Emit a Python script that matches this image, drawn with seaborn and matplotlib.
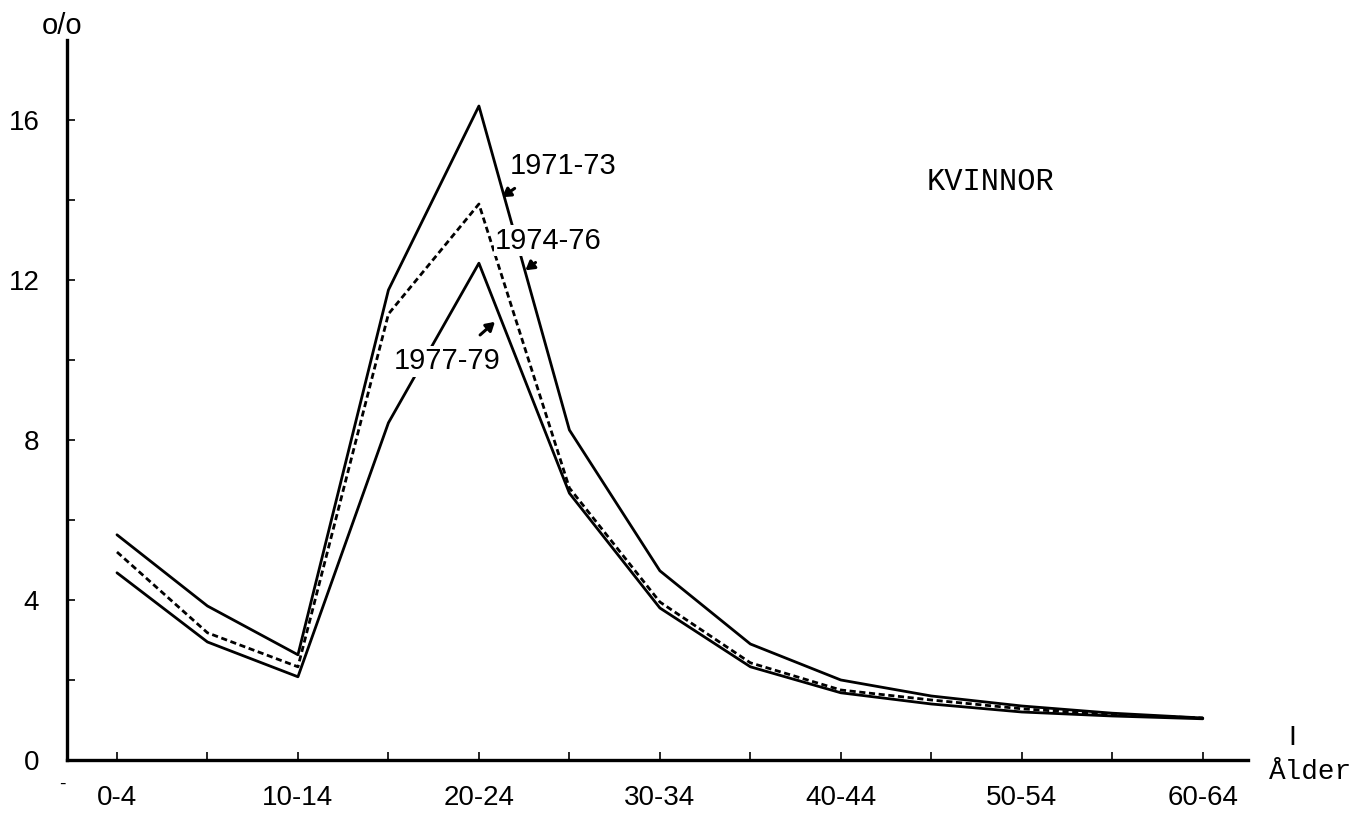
import numpy as np
import pandas as pd
import matplotlib
matplotlib.use('Agg')
import matplotlib.pyplot as plt
import seaborn as sns

# age groups (5-year bands) and share (o/o) per period
ages = ['0-4', '5-9', '10-14', '15-19', '20-24', '25-29', '30-34',
        '35-39', '40-44', '45-49', '50-54', '55-59', '60-64']
p_7173 = [5.63, 3.85, 2.63, 11.75, 16.35, 8.25, 4.73, 2.90, 2.00, 1.60, 1.35, 1.17, 1.05]
p_7476 = [5.20, 3.18, 2.33, 11.15, 13.90, 6.80, 3.95, 2.43, 1.75, 1.50, 1.28, 1.13, 1.05]
p_7779 = [4.68, 2.95, 2.08, 8.43, 12.42, 6.67, 3.80, 2.33, 1.68, 1.40, 1.20, 1.10, 1.03]
periods = ['1971-73', '1974-76', '1977-79']
yticks_major = [0, 4, 8, 12, 16]

rows = []
for name, vals in zip(periods, [p_7173, p_7476, p_7779]):
    for i, v in enumerate(vals):
        rows.append({'pos': i, 'age': ages[i], 'pct': v, 'period': name})
df = pd.DataFrame(rows)

sns.set_style('ticks')
plt.rcParams['font.family'] = ['Liberation Sans', 'DejaVu Sans']
plt.rcParams['text.color'] = 'black'
plt.rcParams['axes.edgecolor'] = 'black'
plt.rcParams['xtick.color'] = 'black'
plt.rcParams['ytick.color'] = 'black'

fig = plt.figure(figsize=(13.68, 8.13), dpi=100)
ax = fig.add_axes([0.049, 0.0652, 0.8633, 0.8856])

sns.lineplot(data=df, x='pos', y='pct', style='period', color='black',
             dashes={'1971-73': '', '1974-76': (2.2, 1.3), '1977-79': ''},
             lw=2.0, legend=False, ax=ax)

ax.set_xlim(-0.552, 12.5)
ax.set_ylim(0, 18)
ax.set_xlabel('')
ax.set_ylabel('')

ax.set_xticks(range(len(ages)))
ax.set_xticklabels([a if i % 2 == 0 else '' for i, a in enumerate(ages)])
ax.set_yticks(range(0, 17, 2))
ax.set_yticklabels([str(t) if t in yticks_major else '' for t in range(0, 17, 2)])

sns.despine(ax=ax)
for s in ['left', 'bottom']:
    ax.spines[s].set_linewidth(2.4)
ax.tick_params(axis='both', direction='in', length=6, width=1.2, labelsize=20)
ax.tick_params(axis='x', pad=18)
ax.tick_params(axis='y', pad=20)

# period labels with arrows
box = dict(fc='white', ec='none', pad=1)
ax.text(4.93, 14.85, '1971-73', fontsize=21, ha='center', va='center', bbox=box, zorder=5)
ax.text(4.77, 12.98, '1974-76', fontsize=21, ha='center', va='center', bbox=box, zorder=5)
ax.text(3.65, 9.97, '1977-79', fontsize=21, ha='center', va='center', bbox=box, zorder=5)
arrow = dict(arrowstyle='-|>,head_length=0.5,head_width=0.3', color='black', lw=2.2)
ax.annotate('', xy=(4.23, 14.03), xytext=(4.42, 14.33), arrowprops=arrow, zorder=6)
ax.annotate('', xy=(4.49, 12.2), xytext=(4.65, 12.48), arrowprops=arrow, zorder=6)
ax.annotate('', xy=(4.20, 11.0), xytext=(3.99, 10.58), arrowprops=arrow, zorder=6)

ax.text(9.65, 14.45, 'KVINNOR', fontsize=22, family='Liberation Mono',
        ha='center', va='center')
ax.text(13.19, -0.3, 'Ålder', fontsize=20, family='Liberation Mono',
        ha='center', va='center', clip_on=False)
ax.text(12.99, 0.6, '|', fontsize=15, fontweight='bold', ha='center',
        va='center', clip_on=False)
ax.text(-0.61, 18.35, 'o/o', fontsize=21, ha='center', va='center', clip_on=False)
ax.text(-0.6, -0.62, '-', fontsize=14, ha='center', va='center', clip_on=False)

fig.savefig('out.png', dpi=100)
